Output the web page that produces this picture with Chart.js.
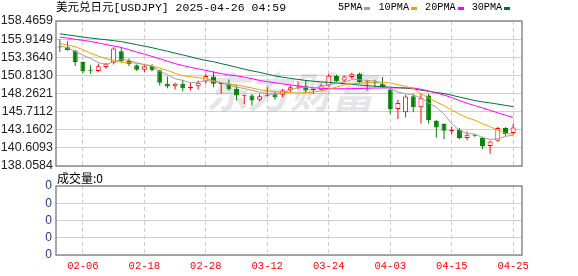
<!DOCTYPE html>
<html>
<head>
<meta charset="utf-8">
<script src="https://cdn.jsdelivr.net/npm/chart.js@4.4.1/dist/chart.umd.min.js"></script>
<style>
    body { margin: 0; background: #fff; }
    #caja { position: relative; width: 578px; height: 276px; overflow: hidden; }
    #titulo { position: absolute; left: 56px; top: 0; font: 11.5px/16px "Liberation Mono", "Noto Sans CJK SC", monospace; color: #000; white-space: nowrap; }
    #leyenda { position: absolute; left: 338px; top: 0; height: 16px; font: 10.2px/16px "Liberation Mono", monospace; color: #000; white-space: nowrap; display: flex; align-items: center; }
    #leyenda .c { display: inline-block; width: 6px; height: 3px; margin: 0 8px 0 2px; }
    #volTxt { position: absolute; left: 57px; top: 170px; font: 12px/16px "Noto Sans CJK SC", sans-serif; color: #000; }
    #precio { position: absolute; left: 0; top: 0; }
    #volumen { position: absolute; left: 0; top: 170px; }
</style>
</head>
<body>
<div id="caja">
    <canvas id="precio" width="578" height="178"></canvas>
    <canvas id="volumen" width="578" height="106"></canvas>
    <div id="titulo"></div>
    <div id="leyenda"></div>
    <div id="volTxt"></div>
</div>
<script>
// Textos
const titulo = '美元兑日元[USDJPY] 2025-04-26 04:59';
const volTitulo = '成交量:0';
const marcaTexto = '东方财富';

// Eje X: una etiqueta cada 8 sesiones
const xTickIdx = [3, 11, 19, 27, 35, 43, 51, 59];
const xTickLabels = ['02-06', '02-18', '02-28', '03-12', '03-24', '04-03', '04-15', '04-25'];

// Eje Y del precio
const yTicks = [138.0584, 140.6093, 143.1602, 145.7112, 148.2621, 150.8130, 153.3640, 155.9149, 158.4659];

// Eje Y del volumen (todo cero)
const volTicks = [0, 1, 2, 3, 4];
const volTickLabels = ['0', '0', '0', '0', '0'];

// Velas diarias (apertura, máximo, mínimo, cierre)
const apertura = [154.85, 154.78, 154.31, 152.70, 151.55, 151.43, 152.00, 152.60, 154.20, 152.84,
    152.23, 151.62, 152.13, 151.52, 149.64, 149.30, 149.64, 149.05, 149.30, 149.96,
    150.67, 149.60, 149.64, 148.90, 147.95, 147.98, 147.37, 147.95, 148.22, 148.10,
    148.78, 149.10, 149.30, 148.75, 148.80, 149.40, 150.71, 150.10, 150.57, 151.05,
    149.80, 149.85, 149.64, 148.83, 146.09, 145.61, 147.88, 146.32, 147.98, 144.43,
    143.96, 142.97, 143.12, 141.99, 142.35, 141.99, 140.89, 141.60, 143.40, 142.70];
const maximo = [155.90, 155.63, 154.36, 152.75, 152.23, 152.47, 152.60, 154.78, 154.78, 153.18,
    152.33, 152.23, 152.37, 151.60, 150.67, 149.78, 150.20, 149.78, 150.10, 151.05,
    151.38, 149.70, 150.25, 149.40, 148.10, 148.20, 148.22, 149.15, 148.55, 148.93,
    149.50, 150.00, 150.10, 149.00, 149.65, 151.05, 150.95, 150.81, 151.20, 151.20,
    150.20, 150.20, 150.57, 149.07, 147.37, 148.08, 148.22, 148.22, 148.22, 144.53,
    144.05, 143.60, 143.40, 142.92, 142.55, 142.17, 141.60, 143.60, 143.50, 144.05];
const minimo = [154.10, 154.30, 152.13, 151.10, 151.05, 151.28, 151.76, 152.33, 152.70, 152.13,
    151.42, 151.28, 151.38, 149.40, 149.00, 148.83, 148.55, 148.70, 148.83, 149.64,
    149.15, 148.22, 148.70, 147.27, 146.80, 146.56, 147.13, 147.80, 147.40, 147.74,
    148.45, 148.90, 148.35, 148.20, 148.70, 149.25, 149.86, 149.86, 150.35, 149.72,
    148.70, 149.15, 149.07, 145.38, 144.68, 144.90, 145.61, 144.05, 144.05, 142.07,
    141.84, 142.55, 141.84, 141.70, 142.17, 140.43, 139.80, 141.50, 142.30, 142.55];
const cierre = [154.75, 154.40, 152.70, 151.40, 151.45, 152.10, 152.45, 154.60, 152.84, 152.37,
    151.62, 152.10, 151.52, 149.78, 149.25, 149.64, 149.00, 149.15, 149.78, 150.71,
    149.64, 149.67, 148.83, 147.98, 148.00, 147.27, 147.88, 148.02, 147.74, 148.69,
    149.15, 149.20, 148.70, 148.85, 149.40, 150.75, 150.00, 150.67, 151.05, 149.86,
    149.90, 149.78, 149.15, 146.09, 146.94, 147.84, 146.32, 147.65, 144.53, 143.49,
    143.02, 143.05, 141.99, 142.45, 142.30, 140.89, 141.50, 143.40, 142.55, 143.49];

// Medias móviles
const ma5 = [154.97, 154.68, 154.21, 153.65, 153.18, 152.61, 152.37, 152.70, 153.04, 152.94,
    152.56, 152.33, 152.13, 151.38, 150.91, 150.34, 150.10, 149.78, 149.86, 150.10,
    149.96, 149.78, 149.49, 149.15, 148.97, 148.69, 148.45, 148.19, 148.12, 148.30,
    148.79, 149.07, 149.15, 149.01, 149.25, 149.49, 149.72, 149.86, 150.20, 150.20,
    150.10, 150.00, 149.64, 149.04, 148.47, 148.22, 148.05, 147.69, 146.92, 146.32,
    145.38, 144.01, 143.09, 142.64, 142.55, 142.07, 141.81, 141.88, 142.24, 142.38];
const ma10 = [155.31, 155.06, 154.85, 154.43, 153.93, 153.53, 153.18, 152.87, 152.65, 152.61,
    152.54, 152.33, 152.12, 151.83, 151.52, 151.10, 150.77, 150.63, 150.49, 150.34,
    150.06, 149.78, 149.61, 149.47, 149.25, 149.04, 148.79, 148.64, 148.52, 148.43,
    148.38, 148.33, 148.38, 148.47, 148.62, 148.86, 149.18, 149.47, 149.61, 149.72,
    149.79, 149.86, 149.86, 149.75, 149.49, 149.25, 148.97, 148.26, 147.62, 147.06,
    146.56, 145.92, 145.36, 144.86, 144.51, 144.01, 143.58, 143.09, 142.66, 142.52];
const ma20 = [156.20, 156.06, 155.89, 155.74, 155.59, 155.38, 155.16, 154.95, 154.74, 154.43,
    154.10, 153.79, 153.48, 153.15, 152.80, 152.47, 152.19, 151.95, 151.73, 151.52,
    151.28, 151.07, 150.88, 150.74, 150.57, 150.34, 150.10, 149.92, 149.78, 149.61,
    149.47, 149.32, 149.18, 149.07, 149.00, 148.94, 148.93, 148.93, 148.94, 148.97,
    149.00, 149.03, 149.04, 149.04, 149.06, 149.07, 149.04, 148.86, 148.62, 148.33,
    148.05, 147.69, 147.27, 146.89, 146.56, 146.24, 145.89, 145.54, 145.21, 144.90];
const ma30 = [156.67, 156.51, 156.37, 156.21, 156.07, 155.94, 155.83, 155.70, 155.56, 155.35,
    155.14, 154.92, 154.71, 154.45, 154.21, 153.94, 153.69, 153.43, 153.15, 152.92,
    152.73, 152.47, 152.23, 151.95, 151.69, 151.45, 151.24, 150.98, 150.74, 150.56,
    150.39, 150.25, 150.10, 149.99, 149.89, 149.82, 149.74, 149.64, 149.54, 149.45,
    149.37, 149.28, 149.21, 149.15, 149.08, 149.00, 148.93, 148.74, 148.57, 148.40,
    148.26, 148.01, 147.77, 147.52, 147.27, 147.09, 146.94, 146.77, 146.59, 146.42];
const maNombres = ['5PMA', '10PMA', '20PMA', '30PMA'];

// Volumen (vacío en el original)
const volumen = [0, 0, 0, 0, 0, 0, 0, 0, 0, 0, 0, 0, 0, 0, 0, 0, 0, 0, 0, 0,
    0, 0, 0, 0, 0, 0, 0, 0, 0, 0, 0, 0, 0, 0, 0, 0, 0, 0, 0, 0,
    0, 0, 0, 0, 0, 0, 0, 0, 0, 0, 0, 0, 0, 0, 0, 0, 0, 0, 0, 0];

// Colores
const ROJO = '#ff0000';
const VERDE = '#008000';
const maColores = ['#a0a0a0', '#f0a000', '#ff00ff', '#00703c'];

// Textos HTML
document.getElementById('titulo').textContent = titulo;
document.getElementById('volTxt').textContent = volTitulo;
const leyenda = document.getElementById('leyenda');
maNombres.forEach((n, k) => {
    const t = document.createElement('span');
    t.textContent = n;
    const c = document.createElement('span');
    c.className = 'c';
    c.style.background = maColores[k];
    leyenda.appendChild(t);
    leyenda.appendChild(c);
});

function colorVela(i) {
    return cierre[i] >= apertura[i] ? ROJO : VERDE;
}

// Marco gris alrededor del área de trazado
const marco = {
    id: 'marco',
    afterDraw(chart) {
        const { ctx, chartArea: a } = chart;
        ctx.save();
        ctx.strokeStyle = '#8c8c8c';
        ctx.lineWidth = 1.5;
        ctx.strokeRect(Math.round(a.left), Math.round(a.top), Math.round(a.right - a.left), Math.round(a.bottom - a.top));
        ctx.restore();
    }
};

// Marca de agua tenue
const marcaAgua = {
    id: 'marcaAgua',
    beforeDatasetsDraw(chart) {
        const ctx = chart.ctx;
        ctx.save();
        ctx.fillStyle = 'rgba(150,150,165,0.25)';
        ctx.font = 'italic bold 42px "Noto Sans CJK SC"';
        ctx.textBaseline = 'middle';
        ctx.fillText(marcaTexto, 206, 92);
        ctx.restore();
    }
};

// Eje X común a los dos paneles
function ejeX(conEtiquetas) {
    return {
        type: 'linear',
        min: -0.5,
        max: 60.15,
        offset: false,
        afterBuildTicks: s => { s.ticks = xTickIdx.map(v => ({ value: v })); },
        afterFit: s => { s.height = conEtiquetas ? 21 : 0; },
        ticks: {
            display: conEtiquetas,
            autoSkip: false,
            maxRotation: 0,
            padding: 5,
            color: ROJO,
            font: { family: 'Liberation Mono', size: 10.5 },
            callback: (v, i) => xTickLabels[i]
        },
        grid: { color: '#cccccc', lineWidth: 1, drawTicks: false, offset: false },
        border: { display: false, dash: [4, 3] }
    };
}

const puntos = arr => arr.map((v, i) => ({ x: i, y: v }));

function lineaMA(datos, k) {
    return {
        type: 'line',
        label: maNombres[k],
        order: 0,
        data: puntos(datos),
        borderColor: maColores[k],
        borderWidth: 1,
        pointRadius: 0,
        fill: false,
        tension: 0
    };
}

// Gráfico de precio
new Chart(document.getElementById('precio'), {
    type: 'bar',
    data: {
        datasets: [
            lineaMA(ma5, 0), lineaMA(ma10, 1), lineaMA(ma20, 2), lineaMA(ma30, 3),
            {
                label: 'cuerpo',
                order: 1,
                grouped: false,
                data: apertura.map((o, i) => ({ x: i, y: [o, cierre[i]] })),
                barThickness: 5,
                minBarLength: 1,
                borderWidth: 1,
                borderSkipped: false,
                inflateAmount: 0,
                borderColor: ctx => ctx.dataIndex === undefined ? VERDE : colorVela(ctx.dataIndex),
                backgroundColor: ctx => {
                    const i = ctx.dataIndex;
                    if (i === undefined || cierre[i] < apertura[i]) return VERDE;
                    return Math.abs(cierre[i] - apertura[i]) < 0.12 ? ROJO : '#ffffff';
                }
            },
            {
                label: 'mecha',
                order: 2,
                grouped: false,
                data: minimo.map((l, i) => ({ x: i, y: [l, maximo[i]] })),
                barThickness: 1,
                borderWidth: 0,
                inflateAmount: 0,
                backgroundColor: ctx => ctx.dataIndex === undefined ? VERDE : colorVela(ctx.dataIndex)
            }
        ]
    },
    options: {
        responsive: false,
        animation: false,
        layout: { padding: { top: 21, right: 56, bottom: 12, left: 0 } },
        plugins: { legend: { display: false }, tooltip: { enabled: false } },
        scales: {
            x: ejeX(false),
            y: {
                type: 'linear',
                min: yTicks[0],
                max: yTicks[yTicks.length - 1],
                afterBuildTicks: s => { s.ticks = yTicks.map(v => ({ value: v })); },
                afterFit: s => { s.width = 56; },
                ticks: {
                    autoSkip: false,
                    padding: 3,
                    color: '#222',
                    font: { family: 'Liberation Sans', size: 12.5 },
                    callback: v => v.toFixed(4)
                },
                grid: { color: '#d0d0d0', drawTicks: false },
                border: { display: false }
            }
        }
    },
    plugins: [marcaAgua, marco]
});

// Gráfico de volumen
new Chart(document.getElementById('volumen'), {
    type: 'bar',
    data: {
        datasets: [{
            label: 'volumen',
            data: puntos(volumen),
            barThickness: 5,
            borderWidth: 0,
            inflateAmount: 0,
            backgroundColor: VERDE
        }]
    },
    options: {
        responsive: false,
        animation: false,
        layout: { padding: { top: 16, right: 56, bottom: 0, left: 0 } },
        plugins: { legend: { display: false }, tooltip: { enabled: false } },
        scales: {
            x: ejeX(true),
            y: {
                type: 'linear',
                min: volTicks[0],
                max: volTicks[volTicks.length - 1],
                afterBuildTicks: s => { s.ticks = volTicks.map(v => ({ value: v })); },
                afterFit: s => { s.width = 56; },
                ticks: {
                    autoSkip: false,
                    padding: 4,
                    color: '#1a3a8c',
                    font: { family: 'Liberation Sans', size: 12 },
                    callback: (v, i) => volTickLabels[i]
                },
                grid: { color: '#d0d0d0', drawTicks: false },
                border: { display: false }
            }
        }
    },
    plugins: [marco]
});
</script>
</body>
</html>
